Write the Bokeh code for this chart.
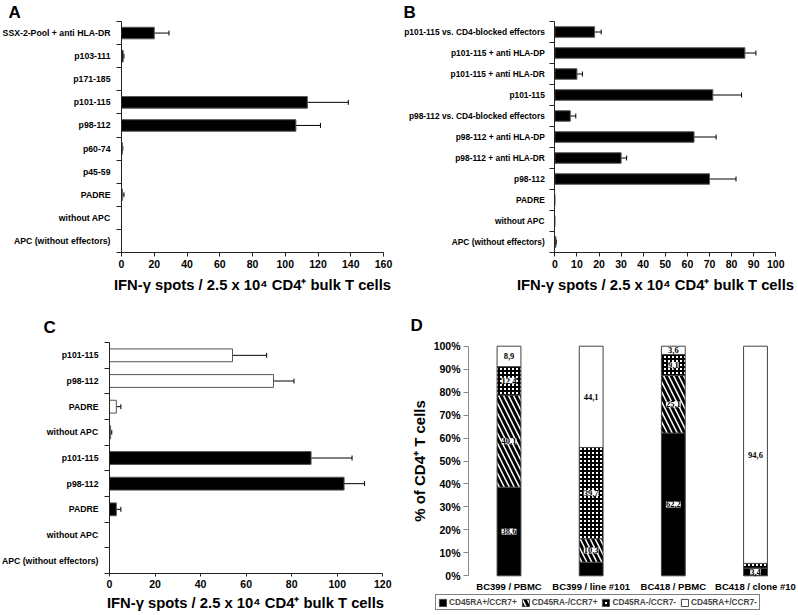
from bokeh.plotting import figure
from bokeh.models import (Range1d, FixedTicker, Whisker, TeeHead, ColumnDataSource,
                          LabelSet, Label, PrintfTickFormatter)
from bokeh.layouts import row, column
from bokeh.embed import file_html
from bokeh.resources import INLINE

FONT = "Liberation Sans"
XTITLE = "IFN-γ spots / 2.5 x 10⁴ CD4⁺ bulk T cells"

# ---------------- data (top to bottom) ----------------
a_labels = ["SSX-2-Pool + anti HLA-DR", "p103-111", "p171-185", "p101-115", "p98-112",
            "p60-74", "p45-59", "PADRE", "without APC", "APC (without effectors)"]
a_values = [20, 1, 0, 113.5, 106.5, 0.5, 0, 0.5, 0, 0]
a_err_top = [29, 1.5, 0, 138.5, 121.5, 0.8, 0, 1.5, 0, 0]

b_labels = ["p101-115 vs. CD4-blocked effectors", "p101-115 + anti HLA-DP", "p101-115 + anti HLA-DR",
            "p101-115", "p98-112 vs. CD4-blocked effectors", "p98-112 + anti HLA-DP",
            "p98-112 + anti HLA-DR", "p98-112", "PADRE", "without APC", "APC (without effectors)"]
b_values = [18, 86, 10, 71.5, 7, 63, 30, 70, 0, 0, 0.5]
b_err_top = [21, 91, 12.5, 84.5, 9.5, 73, 32.5, 82, 0, 0, 0.7]

c_labels = ["p101-115", "p98-112", "PADRE", "without APC", "p101-115", "p98-112", "PADRE",
            "without APC", "APC (without effectors)"]
c_values = [54, 72, 3, 0.5, 88.5, 103, 3, 0, 0]
c_err_top = [69, 81, 5, 1, 106.5, 112, 5, 0, 0]
c_group = ["open", "open", "open", "open", "filled", "filled", "filled", "filled", "filled"]

d_samples = ["BC399 / PBMC", "BC399 / line #101", "BC418 / PBMC", "BC418 / clone #10"]
d_series = ["CD45RA+/CCR7+", "CD45RA-/CCR7+", "CD45RA-/CCR7-", "CD45RA+/CCR7-"]
d_naive = [38.6, 5.9, 62.2, 3.4]
d_cm = [40.1, 10.3, 25.1, 0.0]
d_em = [12.4, 39.7, 9.1, 2.0]
d_eff = [8.9, 44.1, 3.6, 94.6]
d_naive_txt = ["38,6", "", "62,2", "3,4"]
d_cm_txt = ["40,1", "10,3", "25,1", ""]
d_em_txt = ["12,4", "39,7", "9,1", ""]
d_eff_txt = ["8,9", "44,1", "3,6", "94,6"]


def rng(px0, px1, v0, v1, size):
    """Range whose value v0 lies at pixel px0 and v1 at px1 of a canvas of given size."""
    s = (v1 - v0) / (px1 - px0)
    start = v0 - px0 * s
    return Range1d(start, start + size * s)


def style_common(p):
    p.grid.visible = False
    p.outline_line_color = None
    p.background_fill_color = "white"
    p.border_fill_color = "white"
    for ax in p.axis:
        ax.major_label_text_font = FONT
        ax.major_label_text_font_style = "bold"
        ax.major_label_text_color = "black"
        ax.axis_label_text_font = FONT
        ax.axis_label_text_font_style = "bold"
        ax.axis_label_text_color = "black"
        ax.axis_line_color = "#222222"
        ax.major_tick_line_color = "#222222"
        ax.minor_tick_line_color = "#222222"


def add_text(p, x, y, text, size, align="left", baseline="middle"):
    p.add_layout(Label(x=x, y=y, x_units="screen", y_units="screen", text=text,
                       text_font=FONT, text_font_style="bold", text_font_size=size,
                       text_align=align, text_baseline=baseline, text_color="black"))


def new_fig(w, h, xr, yr):
    return figure(width=w, height=h, x_range=xr, y_range=yr, output_backend="svg",
                  toolbar_location=None, min_border=0, min_border_left=0,
                  min_border_right=0, min_border_top=0, min_border_bottom=0)


def hbar_panel(labels, values, err_top, fills, xmax, xstep, w, h, xpx, ypx,
               letter, letter_xy, title_xy, xlab_standoff, xtick_out, ylab_size, ylab_standoff):
    n = len(labels)
    ys = [n - i - 0.5 for i in range(n)]
    p = new_fig(w, h, rng(xpx[0], xpx[1], 0, xmax, w), rng(ypx[0], ypx[1], 0, n, h))
    src = ColumnDataSource(dict(y=ys, v=values, fill=fills))
    p.hbar(y="y", left=0, right="v", height=0.5, fill_color="fill", line_color="#555555",
           line_width=1, source=src)
    wy, wv, we = [], [], []
    for y, v, e in zip(ys, values, err_top):
        if e > v:
            wy.append(y); wv.append(v); we.append(e)
    wsrc = ColumnDataSource(dict(y=wy, v=wv, e=we))
    p.add_layout(Whisker(base="y", lower="v", upper="e", dimension="width", source=wsrc,
                         line_color="black", line_width=1, lower_head=None,
                         upper_head=TeeHead(size=5, line_color="black", line_width=1)))
    style_common(p)
    p.xaxis.fixed_location = 0
    p.xaxis.bounds = (0, xmax)
    p.xaxis.ticker = FixedTicker(ticks=list(range(0, xmax + 1, xstep)), minor_ticks=[])
    p.xaxis.major_tick_out = xtick_out
    p.xaxis.major_tick_in = 0
    p.xaxis.major_label_standoff = xlab_standoff
    p.xaxis.major_label_text_font_size = "10.5px"
    p.yaxis.fixed_location = 0
    p.yaxis.bounds = (0, n)
    p.yaxis.ticker = FixedTicker(ticks=ys, minor_ticks=list(range(0, n + 1)))
    p.yaxis.major_label_overrides = {y: lab for y, lab in zip(ys, labels)}
    p.yaxis.major_tick_out = 0
    p.yaxis.major_tick_in = 0
    p.yaxis.minor_tick_out = 5
    p.yaxis.minor_tick_in = 0
    p.yaxis.major_label_standoff = ylab_standoff
    p.yaxis.major_label_text_font_size = ylab_size
    add_text(p, letter_xy[0], letter_xy[1], letter, "17px", baseline="top")
    add_text(p, title_xy[0], title_xy[1], XTITLE, "14.8px", align="center")
    return p


# figure boxes on page: top row y 0..300, bottom row y 300..615
# pixel positions below are within each figure (x from left, y from bottom)
pA = hbar_panel(a_labels, a_values, a_err_top, ["black"] * len(a_labels), 160, 20,
                400, 300, (121, 383), (48, 279), "A", (8, 298), (252, 16), 3, 4, "8.7px", 6)
pB = hbar_panel(b_labels, b_values, b_err_top, ["black"] * len(b_labels), 100, 10,
                398, 300, (154.3, 375.3), (48, 279), "B", (3, 298), (255, 16), 3, 4, "8.4px", 5)
c_fill = ["white" if g == "open" else "black" for g in c_group]
pC = hbar_panel(c_labels, c_values, c_err_top, c_fill, 120, 20,
                400, 315, (109, 382.3), (42, 273), "C", (43, 298), (245, 13), 3, 3, "8.7px", 6)

# ---------------- panel D ----------------
xs = [i + 0.5 for i in range(len(d_samples))]
dW, dH = 398, 315
d_xr = rng(108.5, 355, xs[0], xs[-1], dW)
d_yr = rng(39.7, 269.3, 0, 100, dH)
pD = new_fig(dW, dH, d_xr, d_yr)
dsrc = ColumnDataSource(dict(x=xs, naive=d_naive, cm=d_cm, em=d_em, eff=d_eff))
pD.vbar_stack(["naive", "cm", "em", "eff"], x="x", width=0.29, source=dsrc,
              fill_color=["black", "white", "white", "white"],
              hatch_pattern=[" ", "\\", "+", " "],
              hatch_color="black", hatch_scale=[1, 10, 4, 1], hatch_weight=[1, 3, 2, 1],
              line_color="#444444", line_width=1,
              legend_label=d_series)

lx, ly, lt = [], [], []
cum = [0.0] * len(d_samples)
for vals, txts in zip([d_naive, d_cm, d_em, d_eff], [d_naive_txt, d_cm_txt, d_em_txt, d_eff_txt]):
    for i, (v, t) in enumerate(zip(vals, txts)):
        if t:
            lx.append(xs[i]); ly.append(cum[i] + v / 2); lt.append(t)
        cum[i] += v
lsrc = ColumnDataSource(dict(x=lx, y=ly, t=lt))
pD.add_layout(LabelSet(x="x", y="y", text="t", source=lsrc, text_align="center",
                       text_baseline="middle", text_font=FONT, text_font_style="bold",
                       text_font_size="8.5px", text_color="black",
                       background_fill_color="white"))

style_common(pD)
d_axis_x = d_xr.start + 68 * (d_xr.end - d_xr.start) / dW
pD.yaxis.fixed_location = d_axis_x
pD.yaxis.bounds = (0, 100)
pD.yaxis.ticker = FixedTicker(ticks=list(range(0, 101, 10)), minor_ticks=[])
pD.yaxis.formatter = PrintfTickFormatter(format="%d%%")
pD.yaxis.axis_line_color = "#888888"
pD.yaxis.major_tick_line_color = "#888888"
pD.yaxis.major_tick_out = 5
pD.yaxis.major_tick_in = 0
pD.yaxis.major_label_standoff = 3
pD.yaxis.major_label_text_font_size = "10.5px"
pD.yaxis.axis_label = "% of CD4⁺ T cells"
pD.yaxis.axis_label_text_font_size = "15px"
pD.yaxis.axis_label_standoff = 3
pD.xaxis.fixed_location = 0
pD.xaxis.ticker = FixedTicker(ticks=xs, minor_ticks=[])
pD.xaxis.major_label_overrides = {x: s for x, s in zip(xs, d_samples)}
pD.xaxis.axis_line_color = None
pD.xaxis.major_tick_line_color = None
pD.xaxis.major_tick_out = 0
pD.xaxis.major_tick_in = 0
pD.xaxis.major_label_standoff = 5
pD.xaxis.major_label_text_font_size = "9.5px"

lg = pD.legend[0]
lg.orientation = "horizontal"
lg.location = (35, 5)
lg.border_line_color = "black"
lg.border_line_width = 1
lg.background_fill_color = "white"
lg.background_fill_alpha = 1
lg.padding = 2
lg.spacing = 4
lg.margin = 0
lg.glyph_width = 9
lg.glyph_height = 9
lg.label_height = 9
lg.label_standoff = 2
lg.label_text_font = FONT
lg.label_text_font_style = "bold"
lg.label_text_font_size = "8.3px"
lg.label_text_baseline = "middle"

add_text(pD, 10, 300, "D", "17px", baseline="top")

layout = column(row(pA, pB), row(pC, pD))
open("out.html", "w").write(file_html(layout, INLINE))
